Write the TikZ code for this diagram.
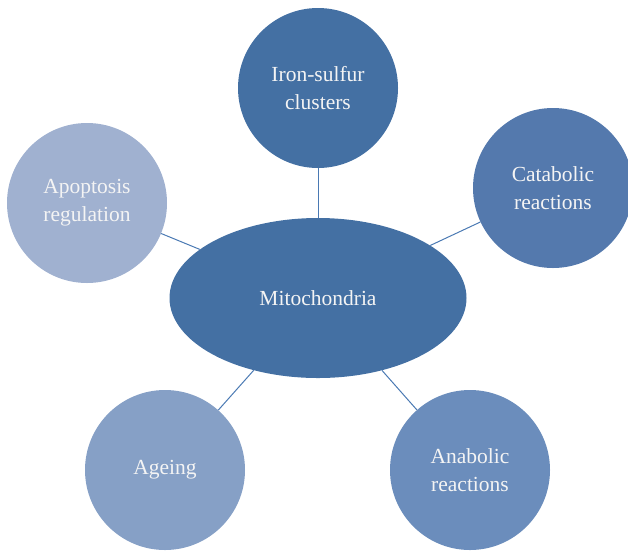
\documentclass[tikz,border=0pt]{standalone}
\usepackage{fontspec}
\setmainfont{Liberation Serif}
\usetikzlibrary{shapes.geometric}
\definecolor{cdark}{HTML}{4470A3}
\definecolor{ccat}{HTML}{5479AD}
\definecolor{capo}{HTML}{A0B1D0}
\definecolor{cage}{HTML}{86A0C6}
\definecolor{cana}{HTML}{6B8DBC}
\definecolor{cline}{HTML}{4A79B3}
\definecolor{ctext}{HTML}{F4F4F4}
\tikzset{
  bubble/.style={circle, minimum size=160pt, inner sep=0pt, align=center,
    text=ctext, font=\fontsize{21.5}{28}\selectfont},
  hub/.style={ellipse, minimum width=297pt, minimum height=160pt, inner sep=0pt,
    fill=cdark, text=ctext, font=\fontsize{21.5}{28}\selectfont},
  link/.style={draw=cline, line width=1pt}
}
\begin{document}
\begin{tikzpicture}[x=1pt,y=-1pt]
\useasboundingbox (0,0) rectangle (628,550);
\node[hub] (m) at (318,298) {Mitochondria};
\node[bubble, fill=cdark] (iron) at (318,88) {Iron-sulfur\\clusters};
\node[bubble, fill=ccat] (cat) at (553,188) {Catabolic\\reactions};
\node[bubble, fill=capo] (apo) at (87,203) {Apoptosis\\regulation};
\node[bubble, fill=cage] (age) at (165,470) {Ageing};
\node[bubble, fill=cana] (ana) at (470,470) {Anabolic\\reactions};
\draw[link] (m) -- (iron);
\draw[link] (m) -- (cat);
\draw[link] (m) -- (apo);
\draw[link] (m) -- (age);
\draw[link] (m) -- (ana);
\end{tikzpicture}
\end{document}
